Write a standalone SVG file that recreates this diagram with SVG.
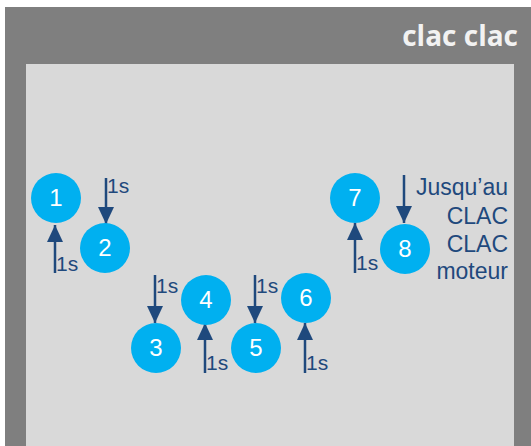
<svg xmlns="http://www.w3.org/2000/svg" width="531" height="446" viewBox="0 0 531 446">
<style>
.node circle{fill:#00b0f0}
.node text{fill:#ffffff;font-family:"Liberation Sans",Arial,sans-serif;font-size:24px;text-anchor:middle}
.lbl{fill:#1f497d;font-family:"Liberation Sans",Arial,sans-serif;font-size:21px}
.big{font-size:23px;text-anchor:end}
.conn line{stroke:#1f497d;stroke-width:2.5;marker-end:url(#ah)}
</style>
<defs>
<marker id="ah" markerUnits="userSpaceOnUse" markerWidth="17" markerHeight="16" refX="17" refY="8" orient="auto">
<path d="M0,0 L17,8 L0,16 z" fill="#1f497d"/>
</marker>
</defs>
<rect x="0" y="0" width="531" height="446" fill="#ffffff"/>
<rect x="5" y="7" width="526" height="439" fill="#7f7f7f"/>
<rect x="26" y="64" width="488" height="382" fill="#d9d9d9"/>
<text x="518" y="46" fill="#f2f2f2" font-family="'Open Sans','Noto Sans',sans-serif" font-weight="bold" font-size="28" text-anchor="end">clac clac</text>
<g class="conn">
<line x1="55" y1="273" x2="55" y2="225"/>
<line x1="106" y1="178" x2="106" y2="224"/>
<line x1="155" y1="275" x2="155" y2="323"/>
<line x1="205" y1="373" x2="205" y2="323"/>
<line x1="255" y1="275" x2="255" y2="323"/>
<line x1="305" y1="373" x2="305" y2="323"/>
<line x1="355" y1="273" x2="355" y2="223"/>
<line x1="404" y1="175" x2="404" y2="223"/>
</g>
<g id="labels">
<text class="lbl" x="56" y="271">1s</text>
<text class="lbl" x="107" y="193">1s</text>
<text class="lbl" x="156" y="293">1s</text>
<text class="lbl" x="206" y="370">1s</text>
<text class="lbl" x="256" y="293">1s</text>
<text class="lbl" x="306" y="370">1s</text>
<text class="lbl" x="356" y="270">1s</text>
<text class="lbl big" x="508" y="195">Jusqu’au</text>
<text class="lbl big" x="508" y="224">CLAC</text>
<text class="lbl big" x="508" y="252">CLAC</text>
<text class="lbl big" x="508" y="279">moteur</text>
</g>
<g id="n1" class="node"><circle cx="56" cy="198" r="25"/><text x="56" y="206">1</text></g>
<g id="n2" class="node"><circle cx="105" cy="248" r="25"/><text x="105" y="256">2</text></g>
<g id="n3" class="node"><circle cx="156" cy="348" r="25"/><text x="156" y="356">3</text></g>
<g id="n4" class="node"><circle cx="206" cy="300" r="25"/><text x="206" y="308">4</text></g>
<g id="n5" class="node"><circle cx="256" cy="348" r="25"/><text x="256" y="356">5</text></g>
<g id="n6" class="node"><circle cx="306" cy="298" r="25"/><text x="306" y="306">6</text></g>
<g id="n7" class="node"><circle cx="355" cy="198" r="25"/><text x="355" y="206">7</text></g>
<g id="n8" class="node"><circle cx="405" cy="249" r="25"/><text x="405" y="257">8</text></g>
</svg>
